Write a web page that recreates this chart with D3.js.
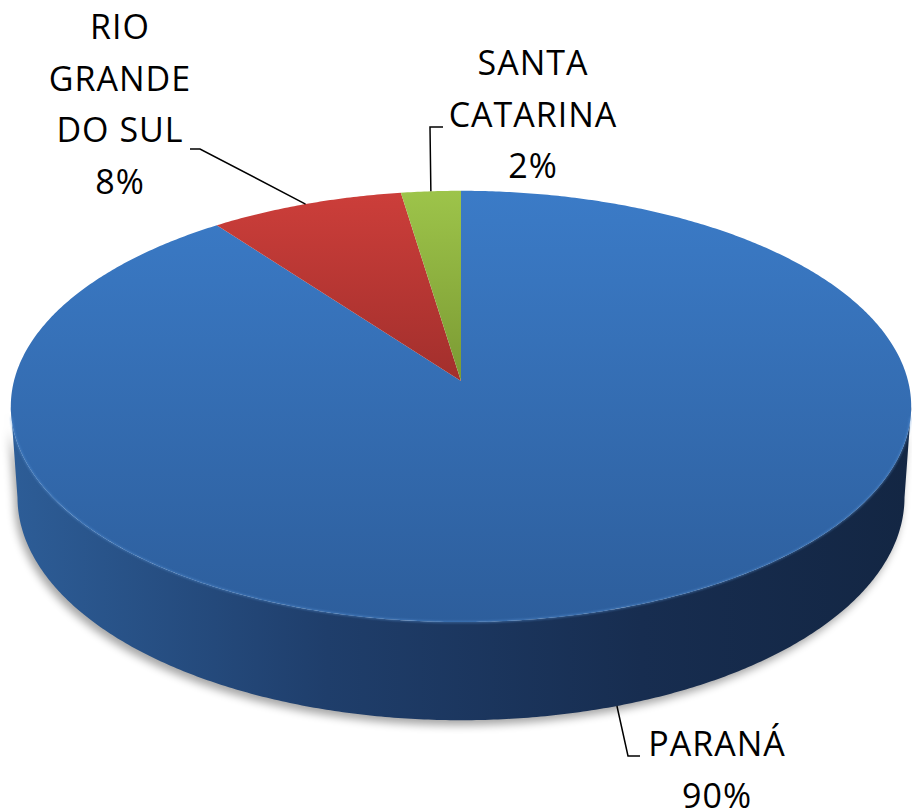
<!DOCTYPE html>
<html>
<head>
<meta charset="utf-8">
<script src="https://cdn.jsdelivr.net/npm/d3@7"></script>
<style>
  body { margin: 0; background: #fff; }
  svg text { font-family: "Open Sans", "Noto Sans", sans-serif; fill: #000; }
</style>
</head>
<body>
<svg width="912" height="812"></svg>
<script>
// data
const categories = ["PARANÁ", "RIO GRANDE DO SUL", "SANTA CATARINA"];
const shares = [89.8, 7.8, 2.4];
const labelLines = [["PARANÁ"], ["RIO", "GRANDE", "DO SUL"], ["SANTA", "CATARINA"]];
const topColors = [["#3b7bc7", "#2d5e9c"], ["#cc3e3a", "#a22f2c"], ["#9dc44a", "#7b9a33"]];

const svg = d3.select("svg");
svg.append("rect").attr("width", 912).attr("height", 812).attr("fill", "#fff");

// camera for the tilted disk (radius 1)
const view = {cx: 461, cy: 381, f: 3335, dist: 7.46, tilt: 28.4 * Math.PI / 180, depth: 0.233};
const sinT = Math.sin(view.tilt), cosT = Math.cos(view.tilt);

function project(theta, r, h) {
  const X = r * Math.sin(theta), D = r * Math.cos(theta);
  const yc = D * sinT + h * cosT;
  const zc = view.dist + D * cosT - h * sinT;
  return [view.cx + view.f * X / zc, view.cy - view.f * yc / zc];
}

function arcPts(a0, a1, h) {
  const n = Math.max(2, Math.ceil(Math.abs(a1 - a0) / (Math.PI / 360)));
  return d3.range(n + 1).map(i => project(a0 + (a1 - a0) * i / n, 1, h));
}

const line = d3.line();
const pie = d3.pie().sort(null).value(d => d.value);
const arcs = pie(categories.map((c, i) => ({name: c, value: shares[i], lines: labelLines[i], col: topColors[i]})));
const fmt = d3.format(".0%");
const total = d3.sum(shares);

const defs = svg.append("defs");
const blur = defs.append("filter").attr("id", "shadow").attr("x", "-10%").attr("y", "-10%").attr("width", "120%").attr("height", "130%");
blur.append("feGaussianBlur").attr("stdDeviation", 4);
const soft = defs.append("filter").attr("id", "soft");
soft.append("feGaussianBlur").attr("stdDeviation", 0.8);

const wallGrad = defs.append("linearGradient").attr("id", "wall")
  .attr("gradientUnits", "userSpaceOnUse").attr("x1", 12).attr("x2", 912).attr("y1", 0).attr("y2", 0);
wallGrad.append("stop").attr("offset", 0).attr("stop-color", "#2d5d97");
wallGrad.append("stop").attr("offset", 0.35).attr("stop-color", "#1f3e6b");
wallGrad.append("stop").attr("offset", 0.7).attr("stop-color", "#172d50");
wallGrad.append("stop").attr("offset", 1).attr("stop-color", "#132643");

arcs.forEach((d, i) => {
  const g = defs.append("linearGradient").attr("id", "top" + i)
    .attr("x1", 0).attr("x2", 0).attr("y1", 0).attr("y2", 1);
  g.append("stop").attr("offset", 0).attr("stop-color", d.data.col[0]);
  g.append("stop").attr("offset", 1).attr("stop-color", d.data.col[1]);
});

// visible front wall between the silhouette angles
const k = cosT / view.dist;
const vis0 = Math.acos(-k), vis1 = 2 * Math.PI - Math.acos(-k);

// shadow
const sh = svg.append("g").attr("filter", "url(#shadow)").attr("transform", "translate(-3,5)")
  .attr("fill", "#000").attr("opacity", 0.35);
sh.append("path").attr("d", line(arcPts(vis0, vis1, 0).concat(arcPts(vis1, vis0, -view.depth))) + "Z");

// side walls
arcs.forEach(d => {
  const b0 = Math.max(d.startAngle, vis0), b1 = Math.min(d.endAngle, vis1);
  if (b1 <= b0) return;
  const pts = arcPts(b0, b1, 0).concat(arcPts(b1, b0, -view.depth));
  svg.append("path").attr("d", line(pts) + "Z").attr("fill", "url(#wall)");
});

// top face
arcs.forEach((d, i) => {
  const pts = [project(0, 0, 0)].concat(arcPts(d.startAngle, d.endAngle, 0));
  svg.append("path").attr("d", line(pts) + "Z").attr("fill", `url(#top${i})`);
});

// bevel highlight along the front rim
svg.append("path").attr("d", line(arcPts(vis0 + 0.05, vis1 - 0.05, 0)))
  .attr("fill", "none").attr("stroke", "#5c97da").attr("stroke-width", 1.5)
  .attr("opacity", 0.6).attr("filter", "url(#soft)");

// labels and leader lines
const labelPos = [
  {x: 717, y: 756, hook: [[640, 756], [628, 756]], anchorH: -view.depth},
  {x: 120, y: 39, hook: [[190, 149], [200, 149]], anchorH: 0},
  {x: 533, y: 75, hook: [[443, 127], [430, 127]], anchorH: 0}
];

arcs.forEach((d, i) => {
  const p = labelPos[i];
  const mid = (d.startAngle + d.endAngle) / 2;
  const anchor = project(mid, 1, p.anchorH);
  svg.append("path").attr("d", line(p.hook.concat([anchor])))
    .attr("fill", "none").attr("stroke", "#000").attr("stroke-width", 1.5);
  const lines = d.data.lines.concat([fmt(d.data.value / total)]);
  const t = svg.append("text").attr("text-anchor", "middle")
    .style("font-size", "34px").style("letter-spacing", "1px");
  lines.forEach((s, j) => {
    t.append("tspan").attr("x", p.x).attr("y", p.y + j * 51.5).text(s);
  });
});
</script>
</body>
</html>
